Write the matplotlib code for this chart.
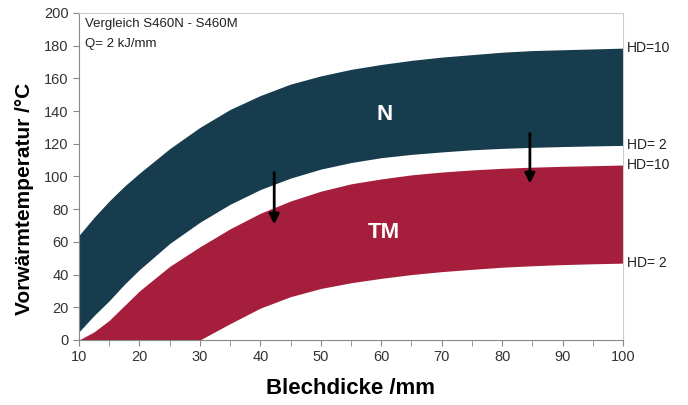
import numpy as np
import matplotlib.pyplot as plt
from matplotlib.ticker import MultipleLocator

plt.rcParams['font.family'] = ['Liberation Sans', 'DejaVu Sans']

# Blechdicke /mm
dicke = [10, 12.5, 15, 17.5, 20, 25, 30, 35, 40, 45, 50, 55, 60, 65, 70, 75, 80, 85, 90, 95, 100]

# S460N band
n_hd10 = [64, 75, 85, 94, 102, 117, 130, 141, 149.5, 156.5, 161.5, 165.5, 168.5, 171, 173, 174.5, 176, 177, 177.5, 178, 178.5]
n_hd2 = [5, 15, 24, 34, 43, 59, 72, 83, 92, 99, 104.5, 108.5, 111.5, 113.5, 115, 116.3, 117.2, 117.8, 118.3, 118.7, 119]

# S460M (TM) band
tm_hd10 = [0, 5, 12, 21, 30, 45, 57, 68, 77.5, 85, 91, 95.5, 98.5, 101, 102.7, 104, 105, 105.7, 106.2, 106.6, 107]
tm_hd2 = [0, 0, 0, 0, 0, 0, 0, 10, 19.5, 26.5, 31.5, 35, 37.7, 40, 41.8, 43.2, 44.5, 45.4, 46.1, 46.6, 47]

fig = plt.figure(figsize=(6.88, 4.05), dpi=100)
ax = fig.add_axes([0.1148, 0.1605, 0.7907, 0.8075])

ax.fill_between(dicke, n_hd2, n_hd10, color='#173c4e', linewidth=0)
ax.fill_between(dicke, tm_hd2, tm_hd10, color='#a51f3d', linewidth=0)

ax.set_xlim(10, 100)
ax.set_ylim(0, 200)
ax.xaxis.set_major_locator(MultipleLocator(10))
ax.xaxis.set_minor_locator(MultipleLocator(5))
ax.yaxis.set_major_locator(MultipleLocator(20))

for s in ['top', 'right']:
    ax.spines[s].set_color('#cccccc')
for s in ['left', 'bottom']:
    ax.spines[s].set_color('#888888')
ax.tick_params(which='both', direction='out', color='#888888', labelcolor='#333333', labelsize=10.5, length=4)

ax.set_xlabel('Blechdicke /mm', fontsize=16, fontweight='bold', labelpad=10)
ax.set_ylabel('Vorwärmtemperatur /°C', fontsize=15, fontweight='bold')
ax.yaxis.set_label_coords(-0.083, 0.43)

ax.text(11, 193, 'Vergleich S460N - S460M', fontsize=9.5, va='center', color='#222222')
ax.text(11, 181, 'Q= 2 kJ/mm', fontsize=9.5, va='center', color='#222222')

ax.text(60.5, 138, 'N', color='white', fontsize=16, fontweight='bold', ha='center', va='center')
ax.text(60.5, 66, 'TM', color='white', fontsize=16, fontweight='bold', ha='center', va='center')

ax.annotate('', xy=(42.3, 69), xytext=(42.3, 104),
            arrowprops=dict(arrowstyle='-|>', color='black', lw=2, mutation_scale=15))
ax.annotate('', xy=(84.6, 94), xytext=(84.6, 128),
            arrowprops=dict(arrowstyle='-|>', color='black', lw=2, mutation_scale=15))

for yv, lab in [(178.5, 'HD=10'), (119, 'HD= 2'), (107, 'HD=10'), (47, 'HD= 2')]:
    ax.text(100.6, yv, lab, fontsize=10, va='center', ha='left', clip_on=False, color='#222222')

fig.savefig('out.png', dpi=100)
